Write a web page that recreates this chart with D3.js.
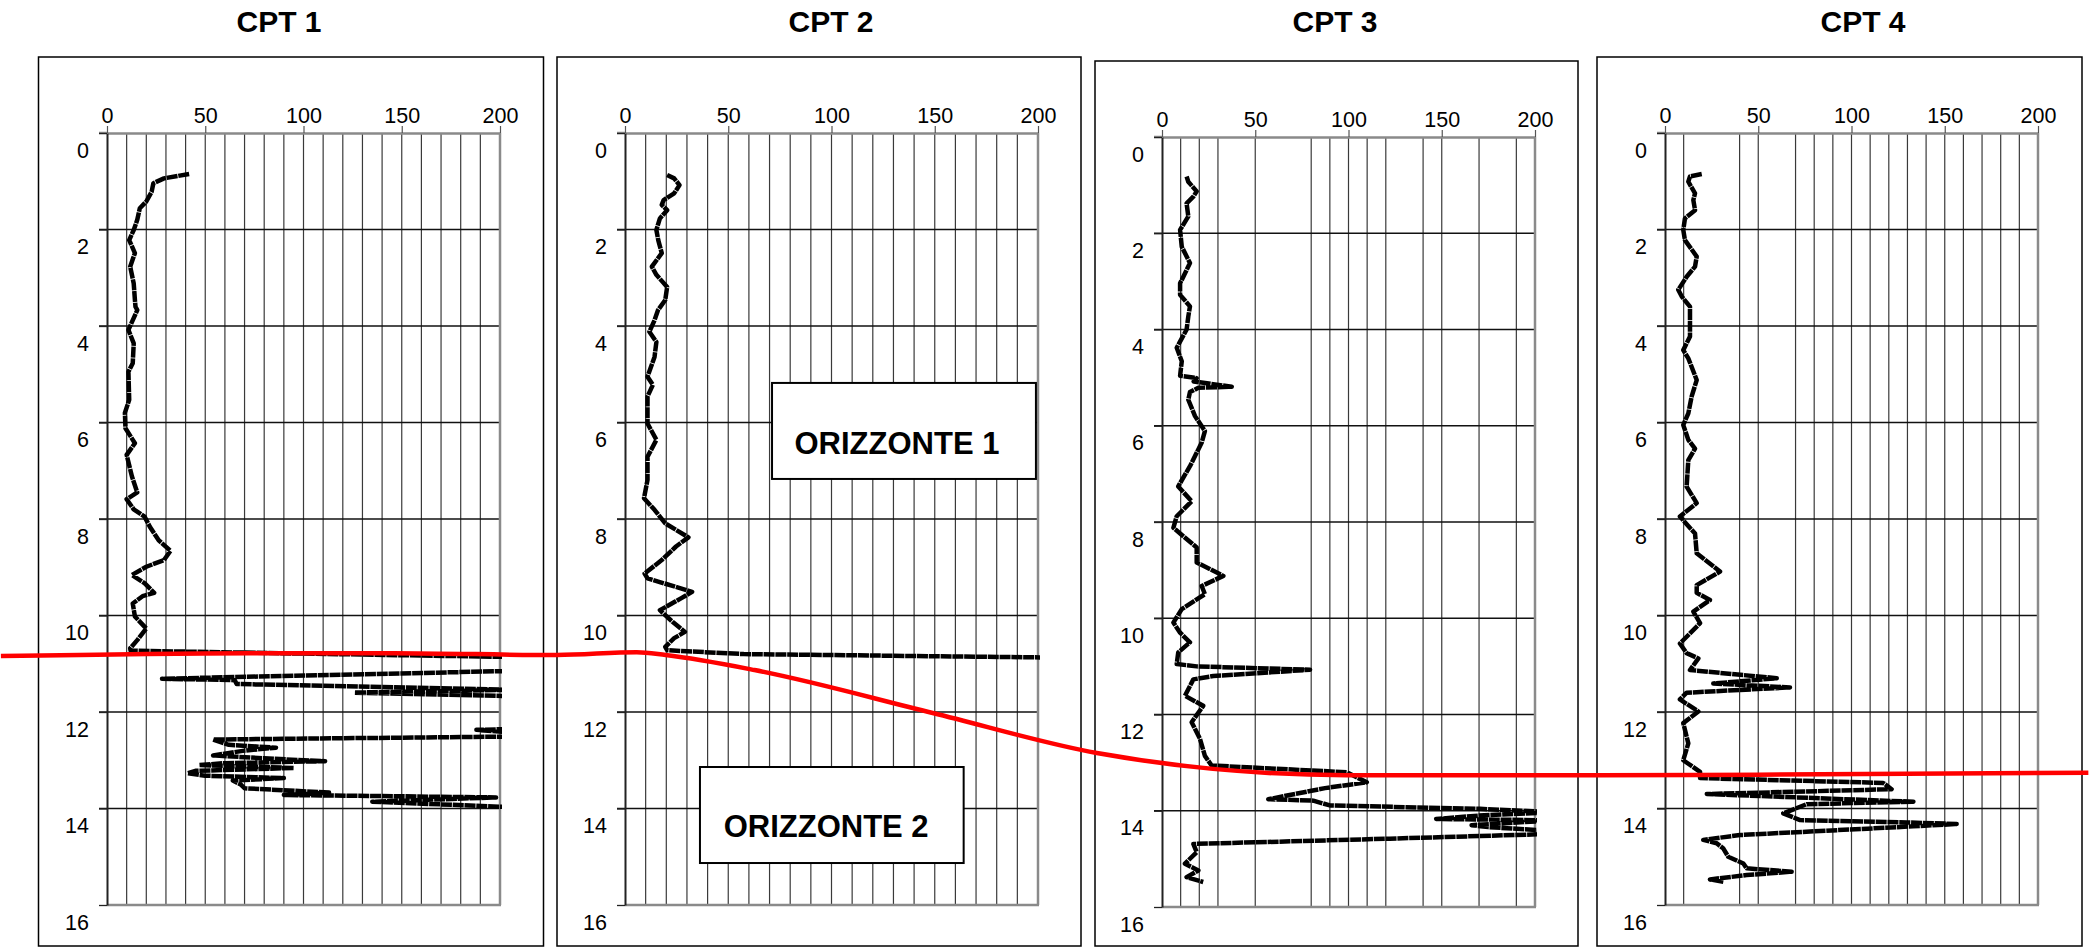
<!DOCTYPE html>
<html>
<head>
<meta charset="utf-8">
<script src="https://cdn.jsdelivr.net/npm/d3@7/dist/d3.min.js"></script>
<style>
  body { margin: 0; background: #fff; }
  svg { display: block; font-family: "Liberation Sans", Arial, sans-serif; }
</style>
</head>
<body>
<div id="visual"></div>
<script>
// ---- data: [depth (m), qc] ----
const titles = ["CPT 1", "CPT 2", "CPT 3", "CPT 4"];
const qcTicks = [0, 50, 100, 150, 200];
const depthTicks = [0, 2, 4, 6, 8, 10, 12, 14, 16];

// vertical grid lines that are visible in each panel
const grid1 = [0, 10, 20, 30, 40, 50, 60, 70, 80, 90, 100, 110, 120, 130, 140, 150, 160, 170, 180, 190, 200];
const grid2 = grid1;
const grid3 = [0, 10, 20, 30, 50, 80, 90, 100, 110, 120, 140, 150, 170, 190, 200];
const grid4 = [0, 10, 40, 50, 70, 80, 90, 100, 110, 120, 130, 140, 150, 160, 170, 180, 190, 200];

const cpt1 = [[0.85,41.8],[0.94,29],[1.04,23.6],[1.22,22.7],[1.42,20],[1.56,16.7],[1.80,15.4],[2.01,13.6],
  [2.22,11.3],[2.49,14.2],[2.77,11.8],[3.12,13.6],[3.46,14.2],[3.6,14.5],[3.67,15.4],[4.08,10.9],[4.36,13.6],
  [4.77,13.1],[4.95,10.9],[5.53,11.3],[5.80,9.1],[6.12,9.4],[6.43,14.2],[6.67,10],[7.12,12.7],[7.45,15.4],
  [7.59,10],[7.80,13.6],[7.95,19.1],[8.16,21.8],[8.44,26.3],[8.66,32.3],[8.85,29],[8.99,20],[9.16,12.7],
  [9.33,19.1],[9.53,24],[9.6,18.1],[9.75,13.1],[10.02,14.2],[10.27,20],[10.51,15.4],[10.68,11.8],[10.73,12],
  [10.86,205],[11.15,205],[11.31,28],[11.34,65],[11.42,66],[11.54,205],[11.60,126],[11.67,205],[12.30,260],
  [12.37,188],[12.42,205],[12.51,205],[12.57,54],[12.68,62],[12.74,86],[12.80,70],[12.90,54],[12.96,80],
  [13.02,111],[13.06,60],[13.10,47],[13.16,95],[13.22,45],[13.27,41],[13.32,50],[13.37,90],[13.42,64],
  [13.50,68],[13.58,70],[13.67,113],[13.72,90],[13.77,198],[13.86,135],[13.97,205]];

const cpt2 = [[0.87,20.4],[0.94,23.8],[1.08,26.4],[1.25,23.8],[1.39,18.7],[1.49,17.8],[1.6,20.4],[1.77,16.9],
  [2.01,15.2],[2.22,16.1],[2.49,17.8],[2.77,13],[2.94,15.2],[3.19,20.4],[3.46,19.5],[3.67,16],[3.88,14.3],
  [4.12,11.8],[4.33,15.2],[4.64,14.3],[5.05,10.9],[5.22,13.5],[5.46,10.9],[6.02,10.9],[6.36,15.2],[6.71,10.9],
  [7.19,10.9],[7.57,9.2],[7.81,14.3],[8.09,19.5],[8.38,30.7],[8.57,24.7],[8.85,17.8],[9.13,9.5],[9.23,10.9],
  [9.51,32.5],[9.64,27.3],[9.89,16.9],[10.13,23],[10.34,29],[10.47,23.8],[10.65,19.5],[10.72,20.4],
  [10.80,57.5],[10.87,205]];

const cpt3 = [[0.82,13.2],[0.93,14.1],[1.13,18.6],[1.24,16.8],[1.38,13.2],[1.65,14.1],[1.93,9.7],[2.28,10.6],
  [2.62,15],[3.04,9.7],[3.28,9.7],[3.52,15],[3.73,14.1],[4.0,13.2],[4.38,7.9],[4.66,10.6],[4.96,9.7],
  [5.01,18.6],[5.08,17],[5.19,37.4],[5.21,19.5],[5.30,15],[5.46,14.1],[5.8,17.7],[6.11,23],[6.35,21.3],
  [6.84,15],[7.26,8.7],[7.57,15.9],[7.88,7.9],[8.12,6.1],[8.53,18.6],[8.84,18.6],[9.12,32.9],[9.33,21.3],
  [9.5,23],[9.81,10.6],[10.09,6.1],[10.3,9.7],[10.5,15],[10.71,8.7],[10.95,7.9],[11.0,18.6],[11.07,79.4],
  [11.2,27.5],[11.27,16.8],[11.61,12.3],[11.82,22.1],[12.16,15.9],[12.51,20.4],[12.86,23],[13.06,26.6],
  [13.2,99],[13.41,109.8],[13.53,87.4],[13.76,57],[13.79,81.1],[13.89,90],[13.96,170.5],[14.03,210],
  [14.10,170],[14.17,147],[14.20,210],[14.30,166],[14.34,175],[14.42,210],[14.48,210],[14.58,122],
  [14.69,16.8],[14.86,18.6],[15.1,12.3],[15.24,19.5],[15.38,13.2],[15.48,22.1]];

const cpt4 = [[0.85,19.7],[0.9,13.4],[1.01,12.5],[1.25,16.1],[1.39,15.2],[1.6,16.1],[1.77,10.7],[2.01,9.8],
  [2.22,10.7],[2.56,17],[2.77,16.1],[2.98,11.6],[3.25,7.1],[3.39,9],[3.6,13.4],[3.88,13.4],[4.22,13.4],
  [4.5,9.8],[4.67,12.5],[5.12,17],[5.46,14.3],[5.81,12.5],[6.05,9.8],[6.36,12.5],[6.54,16.1],[6.78,12.5],
  [7.33,11.6],[7.67,17],[7.95,8],[8.3,16.1],[8.71,17],[9.09,29.5],[9.37,17],[9.53,17],[9.68,24.1],
  [9.92,15.2],[10.16,18.8],[10.58,8],[10.78,11.6],[10.89,17.9],[11.13,13.4],[11.3,59.9],[11.41,25.9],
  [11.49,67],[11.6,11.6],[11.74,8],[11.99,17.9],[12.23,9.8],[12.65,12.5],[13.0,9.8],[13.24,18.8],
  [13.37,18.8],[13.47,117],[13.6,121.5],[13.7,22.4],[13.86,133.2],[13.91,76],[14.1,63.4],[14.24,72.4],
  [14.29,129.6],[14.32,156.4],[14.37,133],[14.55,40.2],[14.65,20.5],[14.72,27.7],[14.83,31.3],[15.0,33.9],
  [15.14,42],[15.24,43.8],[15.31,67.9],[15.38,43.8],[15.47,24.1],[15.52,31.3]];

// horizon (red line): [panel index, qc, depth]
const horizon = [[0,-54,10.84],[0,73,10.78],[0,146,10.78],[0,229,10.82],[1,5.7,10.76],[1,19.7,10.82],
  [1,62.7,11.13],[1,149,12.02],[1,228.5,12.85],[2,27.3,13.13],[2,99,13.26],[2,235,13.26],[3,50,13.3],[3,227,13.26]];

const boxLabels = ["ORIZZONTE 1", "ORIZZONTE 2"];

// ---- layout ----
const panels = [
  { frame: [38.5, 57, 543.5, 946], plot: [107, 133, 500, 905], titleX: 279, grid: grid1, data: cpt1 },
  { frame: [557, 57, 1081, 946], plot: [625, 133, 1038, 905], titleX: 831, grid: grid2, data: cpt2 },
  { frame: [1095, 61, 1578, 946], plot: [1162, 137, 1535, 907], titleX: 1335, grid: grid3, data: cpt3 },
  { frame: [1597, 57, 2082, 946], plot: [1665, 133, 2038, 905], titleX: 1863, grid: grid4, data: cpt4 }
];
// annotation boxes live in panel 2: [qc0, qc1, d0, d1, textQc, textDepth]
const boxes = [[71.2, 199, 5.18, 7.17, 131.7, 6.65], [36.3, 164, 13.14, 15.13, 97.4, 14.59]];

const svg = d3.select("#visual").append("svg")
  .attr("width", 2089).attr("height", 947);

panels.forEach((p, i) => {
  const [fx0, fy0, fx1, fy1] = p.frame;
  const [px0, py0, px1, py1] = p.plot;
  p.x = d3.scaleLinear().domain([0, 200]).range([px0, px1]);
  p.y = d3.scaleLinear().domain([0, 16]).range([py0, py1]);
  const x = p.x, y = p.y;

  svg.append("text")
    .attr("x", p.titleX).attr("y", 32)
    .attr("text-anchor", "middle")
    .attr("font-weight", "bold").attr("font-size", 30)
    .text(titles[i]);

  svg.append("rect")
    .attr("x", fx0).attr("y", fy0)
    .attr("width", fx1 - fx0).attr("height", fy1 - fy0)
    .attr("fill", "none").attr("stroke", "#000").attr("stroke-width", 1.5);

  const g = svg.append("g");

  // vertical grid
  g.selectAll(".vgrid").data(p.grid.filter(v => v > 0 && v < 200)).enter()
    .append("line")
    .attr("x1", d => x(d)).attr("x2", d => x(d))
    .attr("y1", py0).attr("y2", py1)
    .attr("stroke", "#3a3a3a").attr("stroke-width", 1.2);

  // horizontal grid
  g.selectAll(".hgrid").data(depthTicks.filter(v => v > 0 && v < 16)).enter()
    .append("line")
    .attr("x1", px0 - 8).attr("x2", px1)
    .attr("y1", d => y(d)).attr("y2", d => y(d))
    .attr("stroke", "#111").attr("stroke-width", 1.3);

  // bottom + right borders (grey)
  g.append("line").attr("x1", px0).attr("x2", px1 + 1).attr("y1", py1).attr("y2", py1)
    .attr("stroke", "#8a8a8a").attr("stroke-width", 2.5);
  g.append("line").attr("x1", px1).attr("x2", px1).attr("y1", py0).attr("y2", py1)
    .attr("stroke", "#8a8a8a").attr("stroke-width", 2.5);

  // top axis
  const top = g.append("g")
    .attr("transform", `translate(0,${py0})`)
    .call(d3.axisTop(x).tickValues(qcTicks).tickSize(7).tickSizeOuter(0).tickPadding(3));
  top.select(".domain").attr("stroke", "#8a8a8a").attr("stroke-width", 2.5);
  top.selectAll(".tick line").attr("stroke", "#555").attr("stroke-width", 1.2);
  top.selectAll("text").attr("font-size", 21.5).attr("fill", "#000")
    .attr("font-family", "Liberation Sans, Arial, sans-serif");
  g.append("line").attr("x1", px0 - 8).attr("x2", px0).attr("y1", py0).attr("y2", py0)
    .attr("stroke", "#8a8a8a").attr("stroke-width", 2.5);

  // left axis
  const left = g.append("g")
    .attr("transform", `translate(${px0},0)`)
    .call(d3.axisLeft(y).tickValues(depthTicks).tickSize(8).tickSizeOuter(0).tickPadding(10));
  left.select(".domain").attr("stroke", "#222").attr("stroke-width", 2);
  left.selectAll(".tick line").attr("stroke", "#222").attr("stroke-width", 1.3);
  left.selectAll("text").attr("font-size", 21.5).attr("fill", "#000").attr("dy", "1.12em")
    .attr("font-family", "Liberation Sans, Arial, sans-serif");

  // clip to plot area
  svg.append("clipPath").attr("id", "clip" + i)
    .append("rect").attr("x", px0 - 3).attr("y", py0).attr("width", px1 - px0 + 5).attr("height", py1 - py0);

  const line = d3.line().x(d => x(d[1])).y(d => y(d[0]));
  svg.append("path")
    .datum(p.data)
    .attr("clip-path", `url(#clip${i})`)
    .attr("d", line)
    .attr("fill", "none")
    .attr("stroke", "#000")
    .attr("stroke-width", 4.5)
    .attr("stroke-dasharray", "11 0.8")
    .attr("stroke-linejoin", "round");
});

// annotation boxes in panel 2
const p2 = panels[1];
boxes.forEach((b, i) => {
  svg.append("rect")
    .attr("x", p2.x(b[0])).attr("y", p2.y(b[2]))
    .attr("width", p2.x(b[1]) - p2.x(b[0])).attr("height", p2.y(b[3]) - p2.y(b[2]))
    .attr("fill", "#fff").attr("stroke", "#000").attr("stroke-width", 2);
  svg.append("text")
    .attr("x", p2.x(b[4])).attr("y", p2.y(b[5]))
    .attr("text-anchor", "middle")
    .attr("font-weight", "bold").attr("font-size", 31)
    .text(boxLabels[i]);
});

// red horizon line across panels
const redLine = d3.line()
  .x(d => panels[d[0]].x(d[1]))
  .y(d => panels[d[0]].y(d[2]))
  .curve(d3.curveMonotoneX);
svg.append("path")
  .datum(horizon)
  .attr("d", redLine)
  .attr("fill", "none")
  .attr("stroke", "#ff0000")
  .attr("stroke-width", 4.5);
</script>
</body>
</html>
